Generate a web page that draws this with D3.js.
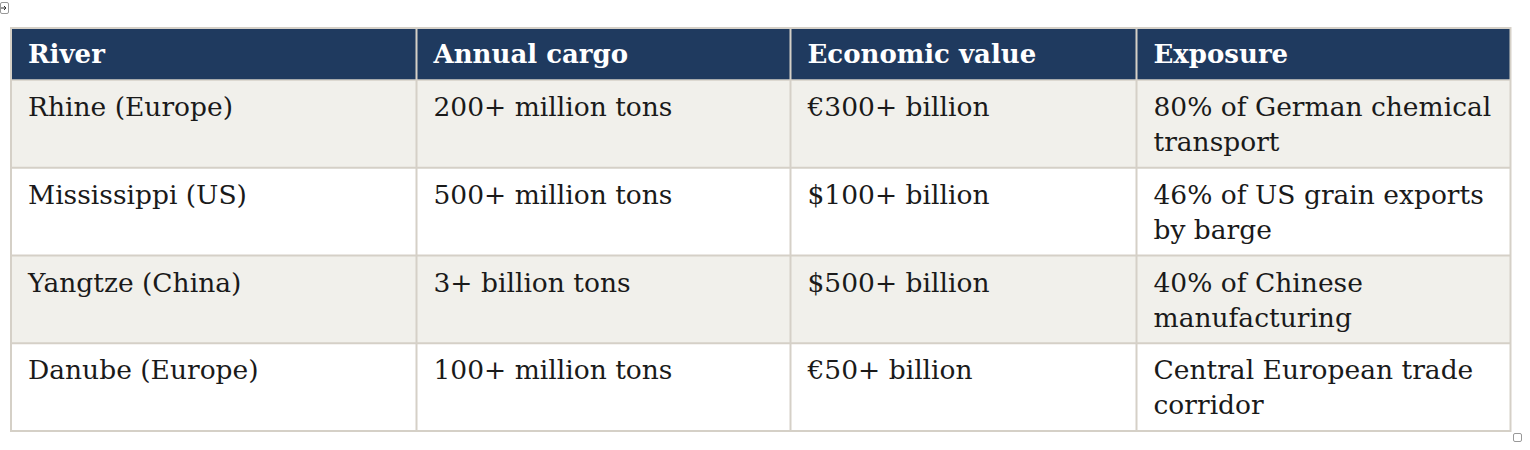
<!DOCTYPE html>
<html>
<head>
<meta charset="utf-8">
<script src="https://cdn.jsdelivr.net/npm/d3@7"></script>
<style>
  body { margin: 0; background: #fff; }
  svg { display: block; }
</style>
</head>
<body>
<svg id="chart"></svg>
<script>
// table content
const headers = ["River", "Annual cargo", "Economic value", "Exposure"];
const rivers = ["Rhine (Europe)", "Mississippi (US)", "Yangtze (China)", "Danube (Europe)"];
const cargo = ["200+ million tons", "500+ million tons", "3+ billion tons", "100+ million tons"];
const value = ["€300+ billion", "$100+ billion", "$500+ billion", "€50+ billion"];
const exposure = [
  "80% of German chemical\ntransport",
  "46% of US grain exports\nby barge",
  "40% of Chinese\nmanufacturing",
  "Central European trade\ncorridor"
];

// layout
const W = 1530, H = 450;
const tLeft = 11, tRight = 1510.5, tTop = 28, headBottom = 80, tBottom = 431;
const colWidths = [405.5, 374, 346, 375];
const pad = 17, lineH = 35;
const border = "#d5d0c7", headFill = "#1f3a5f", altFill = "#f1f0eb";
const fontFam = "Georgia, 'DejaVu Serif', serif";

const svg = d3.select("#chart").attr("width", W).attr("height", H);

const colEdges = d3.cumsum([tLeft].concat(colWidths));
const x = d3.scaleOrdinal().domain(headers).range(colEdges.slice(0, 4));

const y = d3.scaleBand()
  .domain(d3.range(rivers.length))
  .range([headBottom, tBottom])
  .padding(0);

const rows = rivers.map((r, i) => [r, cargo[i], value[i], exposure[i]]);

// header band
svg.append("rect")
  .attr("x", tLeft).attr("y", tTop)
  .attr("width", tRight - tLeft).attr("height", headBottom - tTop)
  .attr("fill", headFill);

// body rows
svg.selectAll("rect.row")
  .data(rows)
  .enter()
  .append("rect")
  .attr("class", "row")
  .attr("x", tLeft)
  .attr("y", (d, i) => y(i))
  .attr("width", tRight - tLeft)
  .attr("height", y.bandwidth())
  .attr("fill", (d, i) => i % 2 === 0 ? altFill : "#fff");

// horizontal rules
svg.selectAll("line.h")
  .data(d3.range(1, rivers.length))
  .enter()
  .append("line")
  .attr("x1", tLeft).attr("x2", tRight)
  .attr("y1", d => y(d)).attr("y2", d => y(d))
  .attr("stroke", border).attr("stroke-width", 2);

svg.append("line")
  .attr("x1", tLeft).attr("x2", tRight)
  .attr("y1", headBottom).attr("y2", headBottom)
  .attr("stroke", border).attr("stroke-width", 1.5);

// vertical rules
svg.selectAll("line.v")
  .data(headers.slice(1))
  .enter()
  .append("line")
  .attr("x1", d => x(d)).attr("x2", d => x(d))
  .attr("y1", tTop).attr("y2", tBottom)
  .attr("stroke", border).attr("stroke-width", 2);

// outer frame
svg.append("rect")
  .attr("x", tLeft).attr("y", tTop)
  .attr("width", tRight - tLeft).attr("height", tBottom - tTop)
  .attr("fill", "none")
  .attr("stroke", border).attr("stroke-width", 2);

// header text
svg.selectAll("text.head")
  .data(headers)
  .enter()
  .append("text")
  .attr("class", "head")
  .attr("x", d => x(d) + pad)
  .attr("y", 63)
  .attr("fill", "#fff")
  .style("font-family", fontFam)
  .style("font-weight", "bold")
  .style("font-size", "26px")
  .text(d => d);

// cell text
rows.forEach((row, i) => {
  row.forEach((cell, j) => {
    const t = svg.append("text")
      .attr("x", x(headers[j]) + pad)
      .attr("y", y(i) + 36)
      .attr("fill", "#1a1a1a")
      .style("font-family", fontFam)
      .style("font-size", "26.5px");
    cell.split("\n").forEach((line, k) => {
      t.append("tspan")
        .attr("x", x(headers[j]) + pad)
        .attr("dy", k === 0 ? 0 : lineH)
        .text(line);
    });
  });
});

// little editor handles
const handle = svg.append("g");
handle.append("rect")
  .attr("x", 0.5).attr("y", 2.5).attr("width", 8).attr("height", 11).attr("rx", 1.5)
  .attr("fill", "#fff").attr("stroke", "#999");
handle.append("path")
  .attr("d", "M1,8 H6 M4,6 L6,8 L4,10")
  .attr("fill", "none").attr("stroke", "#333").attr("stroke-width", 1);
handle.append("rect")
  .attr("x", 1513.5).attr("y", 433.5).attr("width", 8).attr("height", 8).attr("rx", 1.5)
  .attr("fill", "#fff").attr("stroke", "#999");
</script>
</body>
</html>
